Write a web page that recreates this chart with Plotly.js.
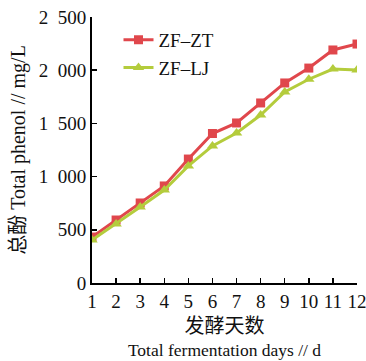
<!DOCTYPE html>
<html><head><meta charset="utf-8">
<script src="https://cdn.plot.ly/plotly-3.0.1.min.js"></script>
<style>html,body{margin:0;padding:0;background:#fff;}</style>
</head><body>
<div id="chart" style="width:366px;height:361px;"></div>
<script>
const days = [1,2,3,4,5,6,7,8,9,10,11,12];
const zfZT = [432,592,752,912,1165,1405,1504,1692,1880,2020,2190,2246];
const zfLJ = [404,555,714,874,1100,1288,1410,1579,1795,1915,2011,2002];
const yTicks = [0,500,1000,1500,2000,2500];

const serif = "Liberation Serif, Times New Roman, serif";
const mixed = "Liberation Serif, Noto Sans CJK SC, serif";

const traces = [
  {x: days, y: zfZT, name: "ZF\u2013ZT", mode: "lines+markers",
   line: {color: "#e0474c", width: 3},
   marker: {symbol: "square", size: 9, color: "#e0474c"}},
  {x: days, y: zfLJ, name: "ZF\u2013LJ", mode: "lines+markers",
   line: {color: "#b4cc3c", width: 3},
   marker: {symbol: "triangle-up", size: 10, color: "#b4cc3c"}}
];

const layout = {
  width: 366, height: 361,
  margin: {l: 92, r: 9, t: 17, b: 78},
  paper_bgcolor: "#fff", plot_bgcolor: "#fff",
  separators: ".\u2007",
  showlegend: true,
  legend: {x: 0.1, y: 0.985, xanchor: "left", yanchor: "top",
           font: {family: serif, size: 19, color: "#111"},
           bgcolor: "rgba(0,0,0,0)", tracegroupgap: 0, itemwidth: 30},
  xaxis: {range: [1, 12], tickvals: days, ticktext: days.map(String),
          ticklabeloverflow: "allow",
          showline: true, linecolor: "#000", linewidth: 2, mirror: false,
          ticks: "inside", ticklen: 5, tickcolor: "#000", tickwidth: 1.5,
          showgrid: false, zeroline: false,
          tickfont: {family: serif, size: 19, color: "#111"},
          title: {text: "<span style=\"font-size:20px\">发酵天数</span><br>Total fermentation days // d",
                  font: {family: mixed, size: 17.5, color: "#111"}, standoff: 10}},
  yaxis: {range: [0, 2500], tickvals: yTicks, separatethousands: true,
          tickformat: ",d",
          showline: true, linecolor: "#000", linewidth: 2,
          ticks: "inside", ticklen: 5, tickcolor: "#000", tickwidth: 1.5,
          showgrid: false, zeroline: false,
          tickfont: {family: serif, size: 19, color: "#111"},
          title: {text: "总酚 Total phenol // mg/L",
                  font: {family: mixed, size: 20, color: "#111"}, standoff: 8}}
};

Plotly.newPlot("chart", traces, layout, {displayModeBar: false, staticPlot: true});
</script>
</body></html>
